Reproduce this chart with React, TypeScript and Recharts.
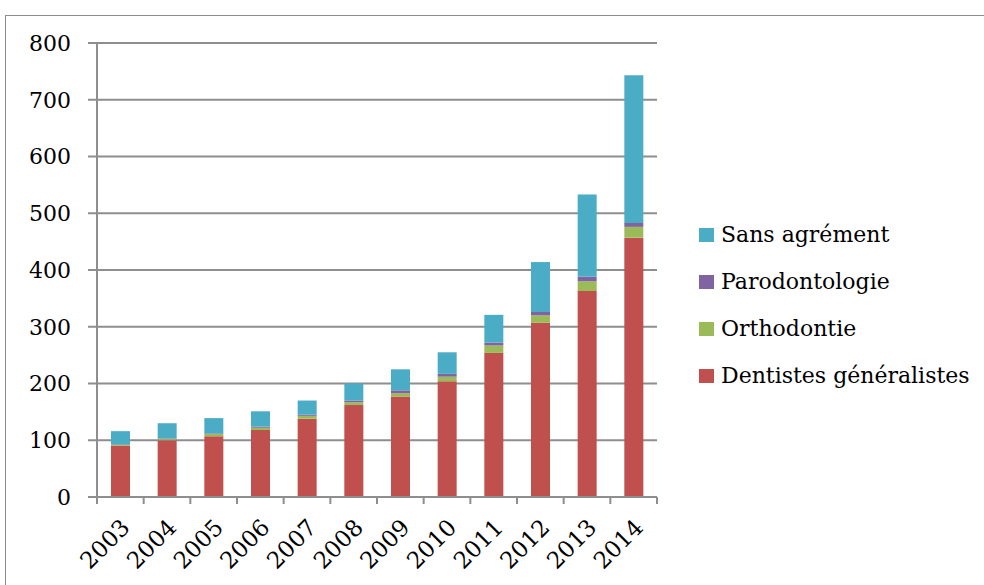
import { BarChart, Bar, XAxis, YAxis, CartesianGrid, Legend } from "recharts";

const years = ["2003", "2004", "2005", "2006", "2007", "2008", "2009", "2010", "2011", "2012", "2013", "2014"];
const generalistes = [90, 100, 107, 118, 138, 162, 177, 204, 254, 307, 363, 457];
const orthodontie = [2, 2, 4, 4, 5, 5, 6, 8, 13, 13, 17, 19];
const parodontologie = [1, 1, 1, 2, 2, 3, 5, 5, 5, 6, 8, 7];
const sansAgrement = [23, 27, 27, 27, 25, 30, 37, 38, 49, 88, 145, 260];
const yTicks = [0, 100, 200, 300, 400, 500, 600, 700, 800];

const data = years.map((year, i) => ({
  year,
  generalistes: generalistes[i],
  orthodontie: orthodontie[i],
  parodontologie: parodontologie[i],
  sansAgrement: sansAgrement[i],
}));

const FONT = "'DejaVu Serif', serif";
const AXIS = "#8e8e8e";

function YearTick(props: any) {
  const { x, y, payload, index, width, visibleTicksCount } = props;
  const bw = width / visibleTicksCount;
  const left = x - bw / 2;
  const tx = x - 1;
  const ty = y + 20;
  return (
    <g>
      <line x1={left} y1={y} x2={left} y2={y + 7} stroke={AXIS} strokeWidth={2} />
      {index === visibleTicksCount - 1 && (
        <line x1={x + bw / 2} y1={y} x2={x + bw / 2} y2={y + 7} stroke={AXIS} strokeWidth={2} />
      )}
      <text
        x={tx}
        y={ty}
        textAnchor="end"
        dominantBaseline="hanging"
        transform={`rotate(-45, ${tx}, ${ty})`}
        fontFamily={FONT}
        fontSize={23}
        fill="#000"
      >
        {payload.value}
      </text>
    </g>
  );
}

function LegendContent({ payload }: any) {
  const items = [...(payload ?? [])].reverse();
  return (
    <div style={{ fontFamily: FONT, fontSize: 22, color: "#000" }}>
      {items.map((it: any) => (
        <div key={it.value} style={{ display: "flex", alignItems: "center", height: 47, whiteSpace: "nowrap" }}>
          <span style={{ width: 15, height: 14, background: it.color, marginRight: 7, display: "inline-block" }} />
          {it.value}
        </div>
      ))}
    </div>
  );
}

export default function App() {
  return (
    <div style={{ position: "fixed", left: 0, top: 0, width: 984, height: 585, overflow: "hidden", background: "#fff" }}>
      <div
        style={{
          position: "absolute",
          left: 5,
          top: 15,
          width: 1100,
          height: 700,
          border: "1px solid #8c8c8c",
        }}
      />
      <BarChart
        width={984}
        height={585}
        data={data}
        margin={{ top: 43, right: 327, bottom: 28, left: 37 }}
        barSize={19}
      >
        <CartesianGrid vertical={false} stroke={AXIS} strokeWidth={2} />
        <XAxis
          dataKey="year"
          height={60}
          axisLine={{ stroke: AXIS, strokeWidth: 2 }}
          tickLine={false}
          tickSize={0}
          tickMargin={0}
          interval={0}
          tick={<YearTick />}
        />
        <YAxis
          width={60}
          domain={[0, 800]}
          ticks={yTicks}
          axisLine={{ stroke: AXIS, strokeWidth: 2 }}
          tickLine={{ stroke: AXIS, strokeWidth: 2 }}
          tickSize={9}
          tickMargin={17}
          tick={{ fontFamily: FONT, fontSize: 22, fill: "#000" }}
        />
        <Legend
          layout="vertical"
          align="center"
          verticalAlign="middle"
          content={<LegendContent />}
          wrapperStyle={{ left: 699, top: 211, width: 285 }}
        />
        <Bar dataKey="generalistes" name="Dentistes généralistes" stackId="a" fill="#C0504D" isAnimationActive={false} />
        <Bar dataKey="orthodontie" name="Orthodontie" stackId="a" fill="#9BBB59" isAnimationActive={false} />
        <Bar dataKey="parodontologie" name="Parodontologie" stackId="a" fill="#8064A2" isAnimationActive={false} />
        <Bar dataKey="sansAgrement" name="Sans agrément" stackId="a" fill="#4BACC6" isAnimationActive={false} />
      </BarChart>
    </div>
  );
}
